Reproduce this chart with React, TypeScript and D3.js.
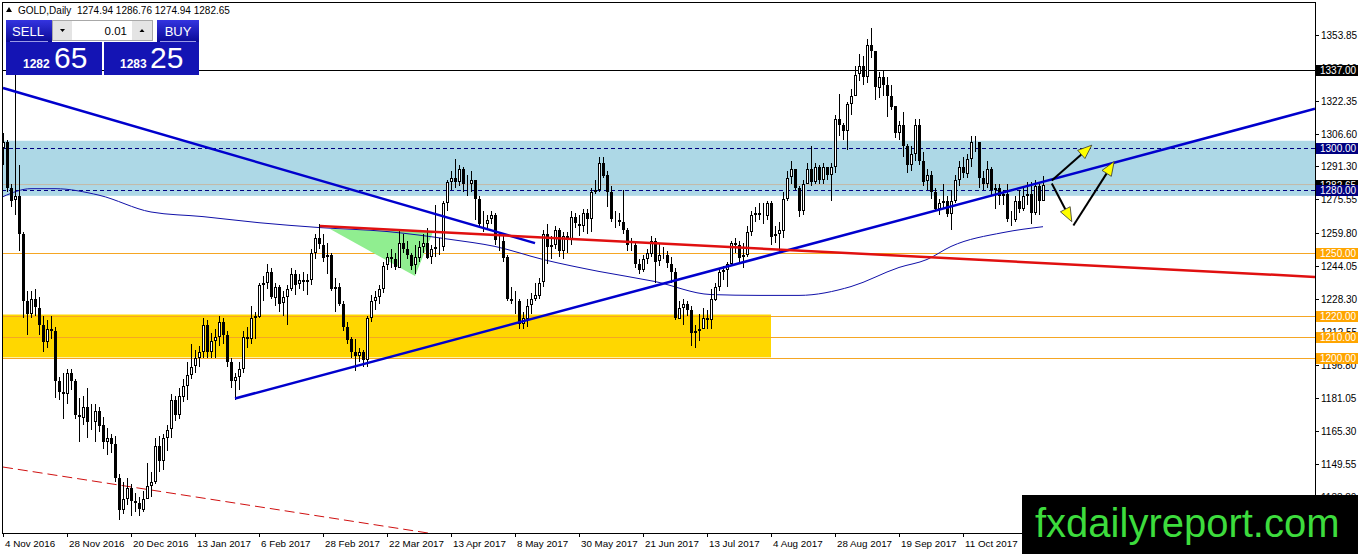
import React from 'react';
import * as d3 from 'd3';

// ---- data (XAUUSD daily, 4 Nov 2016 .. 8 Nov 2017) ----
const firstOpen = 1300;

const closes = [
  1303, 1281, 1275, 1277, 1259, 1227, 1221, 1228, 1224, 1216,
  1208, 1214, 1213, 1189, 1184, 1183, 1193, 1189, 1173, 1172,
  1177, 1170, 1170, 1175, 1168, 1160, 1162, 1159, 1143, 1128,
  1133, 1138, 1132, 1131, 1128, 1133, 1139, 1141, 1158, 1151,
  1162, 1166, 1180, 1173, 1182, 1187, 1192, 1196, 1200, 1203,
  1216, 1203, 1208, 1210, 1217, 1211, 1198, 1189, 1191, 1195,
  1210, 1209, 1219, 1220, 1235, 1236, 1241, 1229, 1234, 1226,
  1229, 1233, 1240, 1235, 1237, 1236, 1237, 1250, 1257, 1254,
  1248, 1249, 1233, 1234, 1226, 1215, 1209, 1203, 1201, 1203,
  1199, 1219, 1227, 1229, 1233, 1244, 1248, 1247, 1243, 1255,
  1252, 1249, 1244, 1248, 1253, 1255, 1248, 1252, 1253, 1253,
  1274, 1284, 1286, 1284, 1290, 1283, 1283, 1285, 1276, 1264,
  1264, 1266, 1268, 1256, 1256, 1248, 1228, 1227, 1227, 1216,
  1219, 1225, 1228, 1230, 1236, 1259, 1253, 1254, 1261, 1251,
  1258, 1256, 1267, 1264, 1263, 1269, 1266, 1279, 1280, 1293,
  1287, 1279, 1266, 1266, 1265, 1261, 1254, 1254, 1245, 1242,
  1247, 1250, 1256, 1246, 1249, 1249, 1245, 1241, 1219, 1224,
  1226, 1223, 1212, 1213, 1214, 1219, 1218, 1228, 1234, 1241,
  1242, 1245, 1255, 1254, 1248, 1249, 1260, 1268, 1269, 1268,
  1268, 1274, 1258, 1259, 1261, 1276, 1286, 1290, 1281, 1270,
  1283, 1290, 1284, 1291, 1285, 1291, 1287, 1291, 1314, 1311,
  1308, 1321, 1325, 1335, 1339, 1334, 1349, 1346, 1329, 1334,
  1330, 1325, 1320, 1307, 1311, 1301, 1292, 1297, 1311, 1294,
  1284, 1287, 1279, 1271, 1274, 1275, 1269, 1275, 1285, 1291,
  1288, 1295, 1303, 1303, 1286, 1283, 1290, 1280, 1281, 1277,
  1278, 1266, 1266, 1275, 1271, 1277, 1278, 1269, 1282, 1274.94,
  1282.65,
];

const highs = [
  1307, 1304, 1283, 1337, 1292, 1260, 1232, 1232, 1233, 1229,
  1220, 1218, 1220, 1215, 1191, 1193, 1195, 1195, 1190, 1181,
  1182, 1186, 1178, 1178, 1177, 1172, 1167, 1164, 1163, 1145,
  1141, 1143, 1140, 1136, 1134, 1137, 1150, 1146, 1162, 1163,
  1164, 1168, 1183, 1182, 1186, 1190, 1198, 1207, 1204, 1206,
  1219, 1218, 1212, 1214, 1220, 1219, 1213, 1200, 1193, 1198,
  1213, 1215, 1225, 1222, 1236, 1239, 1245, 1243, 1236, 1235,
  1232, 1235, 1243, 1242, 1240, 1241, 1240, 1252, 1259, 1264,
  1259, 1255, 1250, 1238, 1236, 1227, 1217, 1210, 1209, 1205,
  1204, 1220, 1230, 1232, 1235, 1246, 1250, 1252, 1250, 1261,
  1259, 1256, 1250, 1254, 1256, 1259, 1262, 1254, 1273, 1257,
  1275, 1285, 1289, 1295, 1292, 1291, 1287, 1289, 1279, 1277,
  1270, 1268, 1270, 1269, 1260, 1258, 1249, 1234, 1232, 1228,
  1222, 1228, 1231, 1236, 1238, 1261, 1264, 1258, 1263, 1262,
  1260, 1260, 1270, 1269, 1268, 1271, 1271, 1281, 1285, 1296,
  1296, 1289, 1282, 1270, 1269, 1280, 1262, 1257, 1255, 1247,
  1249, 1252, 1258, 1257, 1255, 1253, 1251, 1248, 1243, 1227,
  1228, 1227, 1225, 1216, 1221, 1224, 1223, 1233, 1236, 1243,
  1244, 1246, 1256, 1257, 1256, 1255, 1263, 1270, 1272, 1274,
  1274, 1275, 1275, 1263, 1265, 1279, 1289, 1294, 1290, 1282,
  1285, 1293, 1301, 1293, 1292, 1293, 1291, 1293, 1316, 1326,
  1312, 1322, 1328, 1339, 1345, 1344, 1352, 1357, 1345, 1336,
  1337, 1334, 1330, 1320, 1313, 1317, 1302, 1301, 1314, 1314,
  1298, 1290, 1289, 1281, 1276, 1283, 1277, 1280, 1287, 1294,
  1296, 1297, 1306, 1306, 1303, 1289, 1294, 1291, 1283, 1283,
  1280, 1283, 1270, 1277, 1280, 1281, 1284, 1284, 1285, 1283,
  1286.76,
];

const lows = [
  1292, 1279, 1272, 1268, 1251, 1219, 1211, 1219, 1220, 1211,
  1203, 1205, 1209, 1181, 1180, 1171, 1178, 1185, 1171, 1160,
  1168, 1162, 1166, 1160, 1165, 1157, 1154, 1155, 1141, 1123,
  1126, 1130, 1125, 1127, 1125, 1127, 1133, 1134, 1140, 1146,
  1147, 1156, 1162, 1170, 1171, 1179, 1180, 1190, 1193, 1196,
  1200, 1200, 1200, 1200, 1206, 1207, 1196, 1186, 1180, 1185,
  1193, 1205, 1207, 1209, 1219, 1227, 1233, 1228, 1225, 1222,
  1220, 1216, 1232, 1230, 1233, 1232, 1230, 1235, 1247, 1252,
  1246, 1240, 1232, 1222, 1225, 1213, 1207, 1200, 1194, 1198,
  1196, 1196, 1217, 1223, 1226, 1231, 1242, 1243, 1242, 1243,
  1250, 1247, 1242, 1240, 1246, 1250, 1247, 1245, 1248, 1249,
  1251, 1270, 1280, 1281, 1282, 1279, 1277, 1279, 1266, 1262,
  1260, 1261, 1264, 1254, 1251, 1246, 1227, 1226, 1221, 1214,
  1214, 1215, 1221, 1227, 1228, 1234, 1245, 1247, 1252, 1248,
  1247, 1250, 1254, 1262, 1258, 1260, 1259, 1260, 1278, 1279,
  1286, 1272, 1265, 1262, 1263, 1259, 1251, 1251, 1243, 1240,
  1241, 1245, 1248, 1236, 1244, 1247, 1243, 1236, 1218, 1219,
  1216, 1220, 1206, 1205, 1208, 1214, 1214, 1214, 1227, 1232,
  1237, 1234, 1244, 1250, 1246, 1243, 1248, 1258, 1265, 1266,
  1264, 1266, 1254, 1255, 1251, 1257, 1275, 1283, 1280, 1267,
  1268, 1283, 1282, 1283, 1283, 1283, 1285, 1275, 1288, 1306,
  1304, 1299, 1316, 1325, 1332, 1330, 1331, 1343, 1323, 1324,
  1325, 1315, 1318, 1305, 1304, 1296, 1288, 1289, 1294, 1292,
  1282, 1280, 1276, 1270, 1268, 1271, 1267, 1261, 1274, 1282,
  1286, 1286, 1291, 1298, 1281, 1280, 1281, 1277, 1271, 1273,
  1273, 1265, 1263, 1265, 1269, 1270, 1273, 1264, 1268, 1268,
  1274.94,
];

// moving average read as [bar, price]
const maPoints: [number, number][] = [
  [0, 1276.9], [7, 1280.7], [13, 1280.7], [24, 1277.6], [37, 1269.6], [50, 1267.4],
  [64, 1264.5], [79, 1262.2], [96, 1260.3], [112, 1256.5], [123, 1253.2], [135, 1247.0],
  [149, 1241.3], [163, 1236.5], [177, 1230.3], [189, 1229.9], [199, 1229.9], [212, 1234.1],
  [224, 1243.2], [231, 1247.0], [237, 1253.2], [250, 1259.8], [260, 1262.6],
];

const dateLabels = [
  '4 Nov 2016', '28 Nov 2016', '20 Dec 2016', '13 Jan 2017', '6 Feb 2017', '28 Feb 2017',
  '22 Mar 2017', '13 Apr 2017', '8 May 2017', '30 May 2017', '21 Jun 2017', '13 Jul 2017',
  '4 Aug 2017', '28 Aug 2017', '19 Sep 2017', '11 Oct 2017',
];
const dateLabelBars = [0, 16, 32, 48, 64, 80, 96, 112, 128, 144, 160, 176, 192, 208, 224, 240];

const priceTicks = [
  1353.85, 1338.1, 1322.35, 1306.6, 1291.3, 1275.55, 1259.8, 1244.05,
  1228.3, 1212.55, 1196.8, 1181.05, 1165.3, 1149.55, 1133.8,
];

const blackLevels = [1337];
const dashedLevels = [1300, 1280];
const orangeLevels = [1250, 1220, 1210, 1200];
const bidPrice = 1282.65;

const blueZone = [1277.3, 1303.5];
const goldZone = [1200.4, 1220.8];
const goldZoneEndBar = 192;

// trend lines as [bar, price] pairs
const downTrend: [number, number][] = [[0, 1328.6], [133, 1254.8]];
const upTrend: [number, number][] = [[58, 1180.8], [262, 1285.0]];
const redTrend: [number, number][] = [[79.25, 1262.9], [328, 1238.7]];
const redDashed: [number, number][] = [[0, 1148.2], [106.25, 1116.8]];
const greenTriangle: [number, number][] = [[81.75, 1261.5], [107.5, 1260.1], [103, 1239.1]];
const arrows: [number, number][][] = [
  [[262.2, 1284.6], [272.2, 1301.4]],
  [[262.2, 1283.2], [267.2, 1265.0]],
  [[267.6, 1263.2], [277.8, 1293.6]],
];

const FONT = '"Liberation Sans", Arial, sans-serif';

export default function App() {
  const W = 1358, H = 554;
  const left = 2, top = 2, right = 1315, bottom = 533;

  const x = d3.scaleLinear().domain([0, 1]).range([3, 7]);
  const y = d3.scaleLinear().domain([1116.8, 1369.08]).range([bottom, 3]);
  const lastBar = x.invert(right);

  const extend = (p: [number, number][], toBar: number) => {
    const [a, b] = p;
    const k = (b[1] - a[1]) / (b[0] - a[0]);
    return a[1] + k * (toBar - a[0]);
  };

  const bars = closes.map((c, i) => {
    const o = i === 0 ? firstOpen : closes[i - 1];
    return { i, o, c, h: Math.max(highs[i], o, c), l: Math.min(lows[i], o, c) };
  });

  const maLine = d3.line<[number, number]>()
    .x(d => x(d[0]))
    .y(d => y(d[1]))
    .curve(d3.curveMonotoneX);

  const arrowHead = (from: [number, number], to: [number, number]) => {
    const x1 = x(from[0]), y1 = y(from[1]);
    const x2 = x(to[0]), y2 = y(to[1]);
    const ang = Math.atan2(y2 - y1, x2 - x1);
    const len = 14, half = 5.5;
    const bx = x2 - len * Math.cos(ang), by = y2 - len * Math.sin(ang);
    const px = -Math.sin(ang) * half, py = Math.cos(ang) * half;
    return {
      shaft: { x1, y1, x2: bx, y2: by },
      head: `${x2},${y2} ${bx + px},${by + py} ${bx - px},${by - py}`,
    };
  };

  const boxLabel = (p: number, bg: string, key: string) => (
    <g key={key}>
      <rect x={1316} y={Math.round(y(p)) - 5} width={42} height={11} fill={bg} />
      <text x={1320} y={Math.round(y(p)) + 4} fontSize={10} fill="#fff" fontFamily={FONT}>
        {p.toFixed(2)}
      </text>
    </g>
  );

  return (
    <svg width={W} height={H} style={{ position: 'absolute', left: 0, top: 0, background: '#fff' }}>
      <defs>
        <clipPath id="plot">
          <rect x={left} y={top} width={right - left} height={bottom - top} />
        </clipPath>
        <linearGradient id="panelBlue" x1="0" y1="0" x2="0" y2="1">
          <stop offset="0%" stopColor="#3434e0" />
          <stop offset="100%" stopColor="#0a0a96" />
        </linearGradient>
      </defs>

      <g clipPath="url(#plot)">
        {/* zones */}
        <rect x={left} y={y(blueZone[1])} width={right - left} height={y(blueZone[0]) - y(blueZone[1])} fill="#add8e6" />
        <rect x={left} y={y(goldZone[1])} width={x(goldZoneEndBar) - left} height={y(goldZone[0]) - y(goldZone[1])} fill="#ffd700" />

        {/* horizontal levels */}
        <line x1={left} x2={right} y1={y(bidPrice)} y2={y(bidPrice)} stroke="#c4b9a6" strokeWidth={1} />
        {blackLevels.map(p => (
          <line key={p} x1={left} x2={right} y1={Math.round(y(p)) + 0.5} y2={Math.round(y(p)) + 0.5} stroke="#000" />
        ))}
        {dashedLevels.map(p => (
          <line key={p} x1={left} x2={right} y1={Math.round(y(p)) + 0.5} y2={Math.round(y(p)) + 0.5}
            stroke="#000080" strokeDasharray="4 3" />
        ))}
        {orangeLevels.map(p => (
          <line key={p} x1={left} x2={right} y1={Math.round(y(p)) + 0.5} y2={Math.round(y(p)) + 0.5} stroke="#f5a623" />
        ))}

        {/* green triangle */}
        <polygon points={greenTriangle.map(d => `${x(d[0])},${y(d[1])}`).join(' ')} fill="#90ee90" />

        {/* moving average */}
        <path d={maLine(maPoints) || ''} fill="none" stroke="#1010a8" strokeWidth={1} />

        {/* red dashed channel */}
        <line x1={x(redDashed[0][0])} y1={y(redDashed[0][1])} x2={x(200)} y2={y(extend(redDashed, 200))}
          stroke="#d01010" strokeWidth={1} strokeDasharray="10 5" />

        {/* candles */}
        <g shapeRendering="crispEdges">
          {bars.map(b => {
            const cx = Math.round(x(b.i));
            const yo = y(b.o), yc = y(b.c);
            const t = Math.round(Math.min(yo, yc));
            const h = Math.max(1, Math.round(Math.abs(yo - yc)));
            const bull = b.c >= b.o;
            return (
              <g key={b.i}>
                <line x1={cx + 0.5} x2={cx + 0.5} y1={Math.round(y(b.h))} y2={Math.round(y(b.l))} stroke="#000" />
                {bull ? (
                  <rect x={cx - 0.5} y={t + 0.5} width={2} height={Math.max(0, h - 1)} fill="#fff" stroke="#000" />
                ) : (
                  <rect x={cx - 1} y={t} width={3} height={h} fill="#000" />
                )}
              </g>
            );
          })}
        </g>

        {/* trend lines */}
        <line x1={x(downTrend[0][0])} y1={y(downTrend[0][1])} x2={x(downTrend[1][0])} y2={y(downTrend[1][1])}
          stroke="#0000cd" strokeWidth={2.5} />
        <line x1={x(upTrend[0][0])} y1={y(upTrend[0][1])} x2={x(lastBar)} y2={y(extend(upTrend, lastBar))}
          stroke="#0000cd" strokeWidth={2.5} />
        <line x1={x(redTrend[0][0])} y1={y(redTrend[0][1])} x2={x(lastBar)} y2={y(extend(redTrend, lastBar))}
          stroke="#e01010" strokeWidth={2.5} />

        {/* arrows */}
        {arrows.map((a, k) => {
          const ah = arrowHead(a[0], a[1]);
          return (
            <g key={k}>
              <line {...ah.shaft} stroke="#000" strokeWidth={2} />
              <polygon points={ah.head} fill="#ffff00" stroke="#333" strokeWidth={0.8} />
            </g>
          );
        })}
      </g>

      {/* frame */}
      <line x1={left} x2={right} y1={top + 0.5} y2={top + 0.5} stroke="#000" />
      <line x1={left + 0.5} x2={left + 0.5} y1={top} y2={bottom} stroke="#000" />
      <line x1={right + 0.5} x2={right + 0.5} y1={top} y2={bottom} stroke="#000" />
      <line x1={left} x2={right} y1={bottom + 0.5} y2={bottom + 0.5} stroke="#000" />

      {/* price axis */}
      {priceTicks.map(p => {
        const yy = Math.round(y(p)) + 0.5;
        return (
          <g key={p}>
            <line x1={right} x2={right + 4} y1={yy} y2={yy} stroke="#000" />
            <text x={1321} y={yy + 3.5} fontSize={10} fontFamily={FONT} fill="#000">{p.toFixed(2)}</text>
          </g>
        );
      })}
      {boxLabel(bidPrice, '#000', 'bid')}
      {blackLevels.map(p => boxLabel(p, '#000', 'b' + p))}
      {dashedLevels.map(p => boxLabel(p, '#000080', 'd' + p))}
      {orangeLevels.map(p => boxLabel(p, '#ffa500', 'o' + p))}

      {/* time axis */}
      {dateLabels.map((lab, k) => {
        const xx = Math.round(x(dateLabelBars[k])) + 0.5;
        return (
          <g key={lab}>
            <line x1={xx} x2={xx} y1={bottom} y2={bottom + 4} stroke="#000" />
            <text x={xx + 1.5} y={547} fontSize={9.8} fontFamily={FONT} fill="#000">{lab}</text>
          </g>
        );
      })}

      {/* header */}
      <polygon points="6,12 12,12 9,7" fill="#000" />
      <text x={18} y={14} fontSize={10} fontFamily={FONT} fill="#000">
        GOLD,Daily{'\u00a0\u00a0'}1274.94 1286.76 1274.94 1282.65
      </text>

      {/* one-click trading panel */}
      <g>
        <rect x={6} y={20} width={46} height={22} fill="url(#panelBlue)" />
        <rect x={6} y={42} width={96} height={33} fill="#1414b4" />
        <rect x={157} y={20} width={42} height={22} fill="url(#panelBlue)" />
        <rect x={104} y={42} width={95} height={33} fill="#1414b4" />
        <line x1={10} x2={48} y1={41.5} y2={41.5} stroke="#9a9ae8" />
        <line x1={160} x2={196} y1={41.5} y2={41.5} stroke="#9a9ae8" />
        <text x={28} y={36} textAnchor="middle" fontSize={13} fontFamily={FONT} fill="#fff">SELL</text>
        <text x={178} y={36} textAnchor="middle" fontSize={13} fontFamily={FONT} fill="#fff">BUY</text>

        <rect x={52.5} y={20.5} width={100} height={20} fill="#fff" stroke="#a8a8a8" />
        <rect x={53} y={21} width={19} height={19} fill="#e4e4e4" />
        <rect x={132} y={21} width={20} height={19} fill="#e4e4e4" />
        <polygon points="60,29 65,29 62.5,32" fill="#000" />
        <polygon points="139.5,32 144.5,32 142,29" fill="#000" />
        <text x={127} y={35} textAnchor="end" fontSize={11.5} fontFamily={FONT} fill="#000">0.01</text>

        <text x={23} y={68} fontSize={12} fontWeight="bold" fontFamily={FONT} fill="#fff">1282</text>
        <text x={54} y={68} fontSize={30} fontFamily={FONT} fill="#fff">65</text>
        <text x={120} y={68} fontSize={12} fontWeight="bold" fontFamily={FONT} fill="#fff">1283</text>
        <text x={150} y={68} fontSize={30} fontFamily={FONT} fill="#fff">25</text>
      </g>

      {/* watermark */}
      <rect x={1022} y={495} width={336} height={59} fill="#000" />
      <text x={1035} y={537} fontSize={40} fontFamily={FONT} fill="#3ddc3d">fxdailyreport.com</text>
    </svg>
  );
}
